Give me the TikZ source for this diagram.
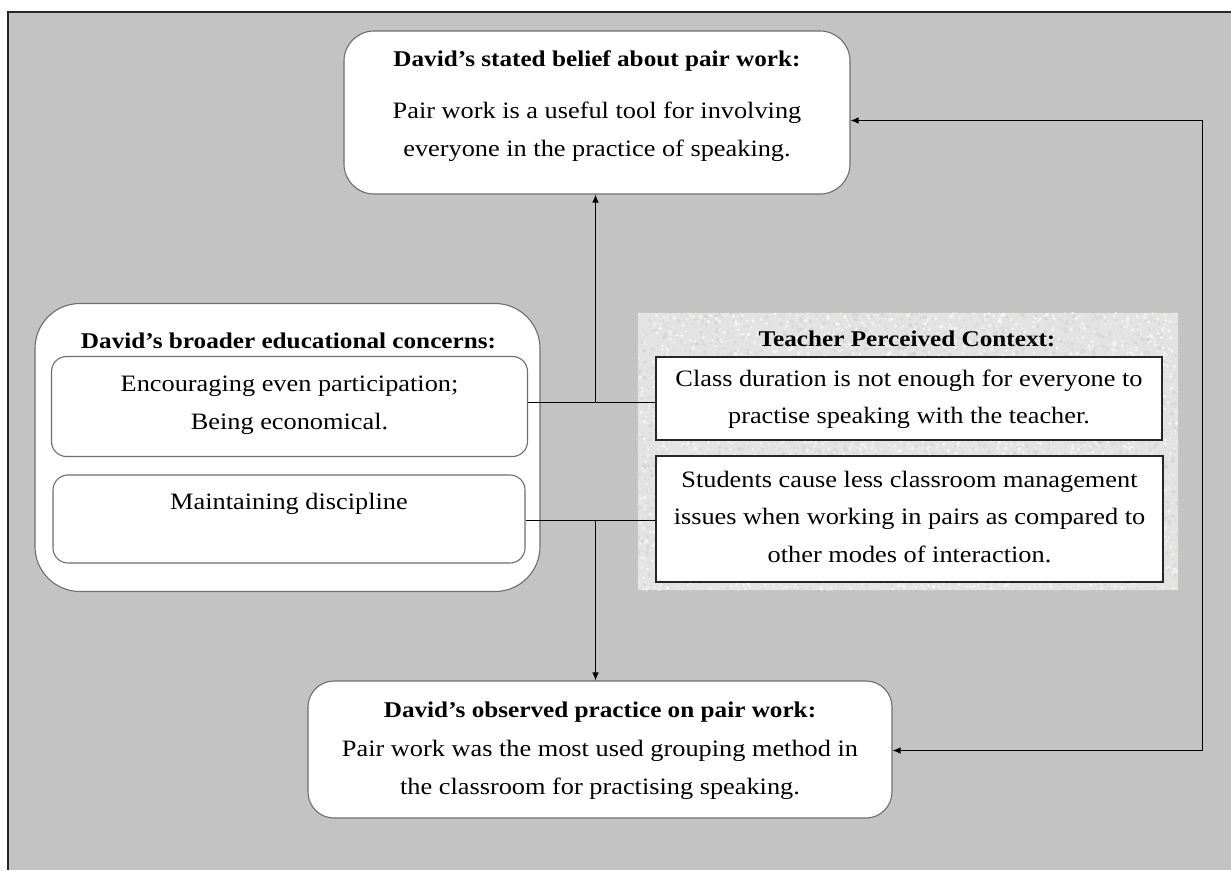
\documentclass[tikz,border=0pt]{standalone}
\usepackage{fontspec}
\setmainfont{Liberation Serif}[FakeStretch=1.12]
\usetikzlibrary{arrows.meta}
\definecolor{panelgray}{HTML}{C3C3C3}
\definecolor{edgegray}{HTML}{6E6E6E}
\definecolor{grain}{HTML}{E3E3E3}
\definecolor{grainedge}{HTML}{C4D2B0}
\begin{document}
\begin{tikzpicture}[x=1pt,y=-1pt,
  txt/.style={font=\fontsize{23.5}{37.5}\selectfont, align=center, inner sep=0pt},
  ttl/.style={font=\fontsize{22.5}{37.5}\selectfont\bfseries, align=center, inner sep=0pt},
  softbox/.style={draw=edgegray, fill=white, line width=1.1pt, rounded corners=#1, inner sep=0pt},
  plainbox/.style={draw=black!85, fill=white, line width=1.1pt, inner sep=0pt},
  link/.style={draw=black, line width=0.9pt},
  tip/.style={-{Latex[length=8pt,width=6.5pt]}},
  tips/.style={{Latex[length=8pt,width=6.5pt]}-{Latex[length=8pt,width=6.5pt]}}
]
\useasboundingbox (0,0) rectangle (1231,870);

% grey page panel, framed on the left and top
\fill[panelgray] (8,12) rectangle (1231,870);
\draw[line width=1.2pt, black!85] (8,870) -- (8,12) -- (1231,12);

% stated belief
\node[softbox=30pt, minimum width=506pt, minimum height=163pt] (belief) at (597,112.5) {};
\node[ttl] (beliefT) at (597,61) {David’s stated belief about pair work:};
\node[txt] (beliefB) at (597,132) {Pair work is a useful tool for involving\\everyone in the practice of speaking.};

% broader educational concerns
\node[softbox=45pt, minimum width=505pt, minimum height=288pt] (concerns) at (287.5,447.5) {};
\node[ttl] (concernsT) at (288.5,341) {David’s broader educational concerns:};
\node[softbox=15pt, minimum width=476pt, minimum height=100pt] (even) at (289.5,406.5) {};
\node[txt] (evenT) at (289.5,405) {Encouraging even participation;\\Being economical.};
\node[softbox=15pt, minimum width=472pt, minimum height=88pt] (disc) at (289,519) {};
\node[txt] (discT) at (289,504) {Maintaining discipline};

% teacher perceived context (grained panel)
\node[fill=grain, minimum width=540pt, minimum height=277pt, inner sep=0pt] (context) at (908,451.5) {};
\begin{scope}
  \clip (context.north west) rectangle (context.south east);
  \pgfmathsetseed{4127}
  \foreach \k in {1,...,3000} {
    \pgfmathsetmacro\px{638+540*rnd}
    \pgfmathsetmacro\py{313+277*rnd}
    \pgfmathsetmacro\pr{0.8+1.4*rnd}
    \fill[black!22, opacity=0.35] (\px,\py) circle (\pr pt);
  }
  \foreach \k in {1,...,3000} {
    \pgfmathsetmacro\px{638+540*rnd}
    \pgfmathsetmacro\py{313+277*rnd}
    \pgfmathsetmacro\pr{0.7+1.3*rnd}
    \fill[white, opacity=0.6] (\px,\py) circle (\pr pt);
  }
\end{scope}
\draw[grainedge, line width=1.3pt, dotted] (context.north west) rectangle (context.south east);
\node[ttl] (contextT) at (907,339) {Teacher Perceived Context:};
\node[plainbox, minimum width=506pt, minimum height=83pt] (duration) at (909,398.5) {};
\node[txt] (durationT) at (909,399.5) {Class duration is not enough for everyone to\\practise speaking with the teacher.};
\node[plainbox, minimum width=507pt, minimum height=126pt] (manage) at (909.5,519) {};
\node[txt] (manageT) at (909.5,517) {Students cause less classroom management\\issues when working in pairs as compared to\\other modes of interaction.};

% observed practice
\node[softbox=26pt, minimum width=584pt, minimum height=137pt] (practice) at (600,749.5) {};
\node[ttl] (practiceT) at (600,712) {David’s observed practice on pair work:};
\node[txt] (practiceB) at (600,770) {Pair work was the most used grouping method in\\the classroom for practising speaking.};

% connectors
\coordinate (upJ) at (595.5,402.5);
\coordinate (dnJ) at (595.5,520.5);
\coordinate (loopR) at (1202.5,120.5);
\draw[link] (even.east |- upJ) -- (duration.west |- upJ);
\draw[link] (disc.east |- dnJ) -- (manage.west |- dnJ);
\draw[link, tip] (upJ) -- (belief.south -| upJ);
\draw[link, tip] (dnJ) -- (practice.north -| dnJ);
\draw[link, tips] (belief.east |- loopR) -- (loopR) |- (practice.east |- 0,750.5);
\end{tikzpicture}
\end{document}
